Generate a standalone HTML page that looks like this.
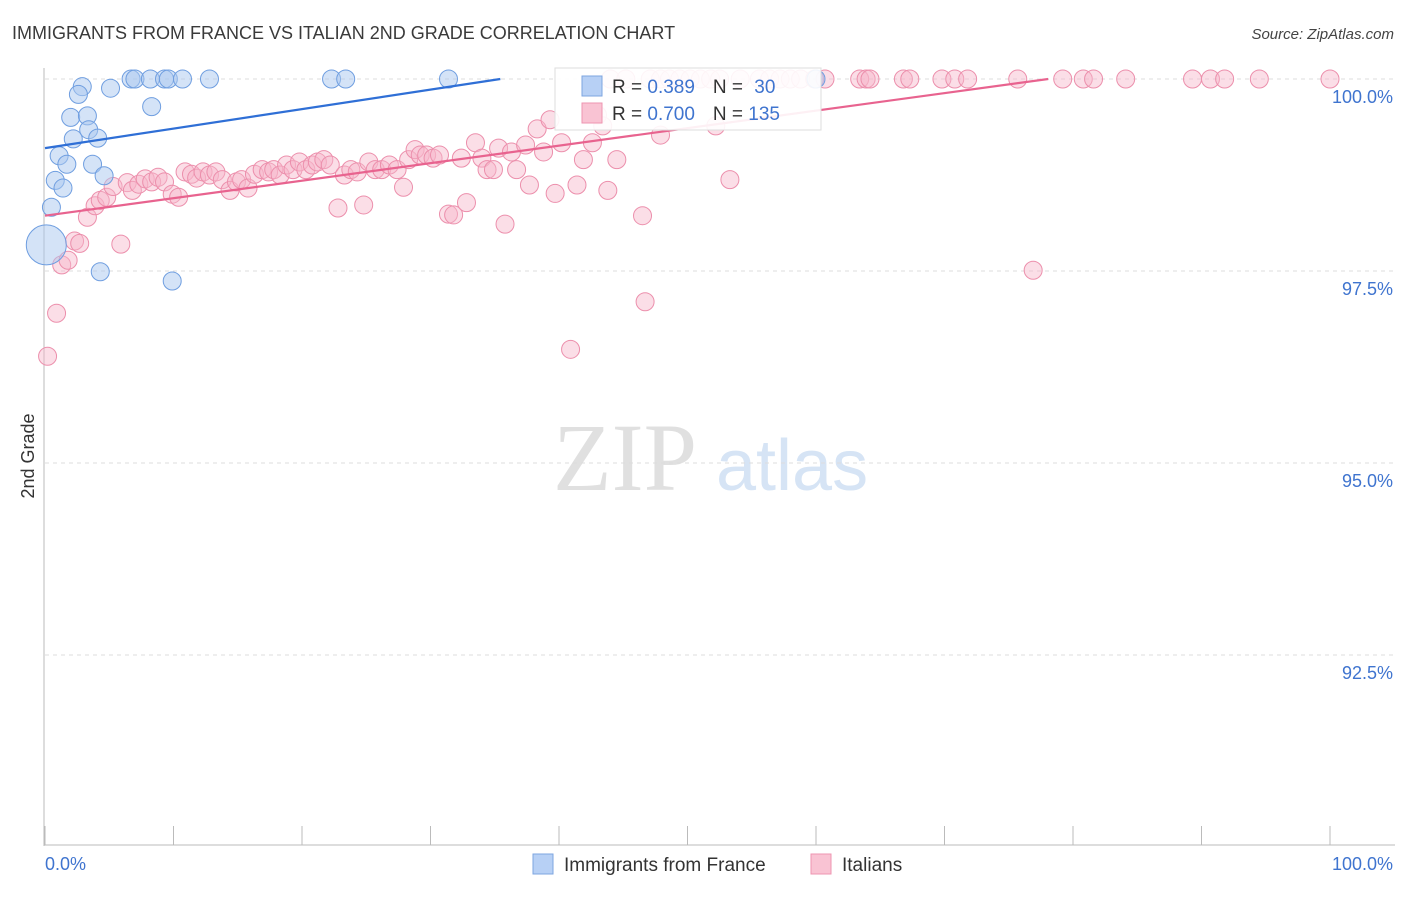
<!DOCTYPE html>
<html><head><meta charset="utf-8"><style>
body{margin:0;background:#fff;font-family:"Liberation Sans",sans-serif;}
svg text{font-family:"Liberation Sans",sans-serif;}
</style></head><body>
<svg id="chart" width="1406" height="892" viewBox="0 0 1406 892" xmlns="http://www.w3.org/2000/svg">
<text x="12" y="39" font-size="18" fill="#3a3a3a">IMMIGRANTS FROM FRANCE VS ITALIAN 2ND GRADE CORRELATION CHART</text>
<text x="1394" y="39" font-size="15" font-style="italic" fill="#444" text-anchor="end">Source: ZipAtlas.com</text>
<g>
<text x="553" y="490" font-size="96" fill="#e0e0e0" style="font-family:'Liberation Serif',serif">ZIP</text>
<text x="716" y="490" font-size="72" fill="#d6e4f5">atlas</text>
</g>
<g id="grid"></g>
<g id="axes"></g>
<g id="pts"></g>
<g id="lines"></g>
<g>
<rect x="555" y="68" width="266" height="62" fill="#fff" fill-opacity="0.9" stroke="#ddd"/>
<rect x="582" y="76" width="20" height="20" fill="#b7d0f5" stroke="#7ea6e0"/>
<text x="612" y="93" font-size="19" fill="#333">R = <tspan fill="#3f74cf">0.389</tspan><tspan dx="18" fill="#333">N = </tspan><tspan dx="6" fill="#3f74cf">30</tspan></text>
<rect x="582" y="103" width="20" height="20" fill="#f9c3d3" stroke="#ee95b0"/>
<text x="612" y="120" font-size="19" fill="#333">R = <tspan fill="#3f74cf">0.700</tspan><tspan dx="18" fill="#333">N = </tspan><tspan fill="#3f74cf">135</tspan></text>
</g>
<g>
<rect x="533" y="854" width="20" height="20" fill="#b7d0f5" stroke="#7ea6e0"/>
<text x="564" y="871" font-size="19" fill="#333">Immigrants from France</text>
<rect x="811" y="854" width="20" height="20" fill="#f9c3d3" stroke="#ee95b0"/>
<text x="842" y="871" font-size="19" fill="#333">Italians</text>
</g>
<text transform="translate(34,456) rotate(-90)" font-size="18" fill="#333" text-anchor="middle">2nd Grade</text>
</svg>
<script>
const yTicks=[100,97.5,95,92.5];
const yTickLabels=["100.0%","97.5%","95.0%","92.5%"];
const xTickLabels=["0.0%","100.0%"];
const franceX=[6.7,7.0,8.2,9.3,9.6,10.7,12.8,22.3,23.4,31.4,60.0,2.9,5.1,2.6,8.3,2.0,3.3,2.2,3.4,4.1,1.1,1.7,3.7,0.8,1.4,4.6,0.5,0.1,4.3,9.9];
const franceY=[100,100,100,100,100,100,100,100,100,100,100,99.9,99.88,99.8,99.64,99.5,99.52,99.22,99.34,99.23,99.0,98.89,98.89,98.68,98.58,98.74,98.33,97.84,97.49,97.37];
const franceR=[9,9,9,9,9,9,9,9,9,9,9,9,9,9,9,9,9,9,9,9,9,9,9,9,9,9,9,20,9,9];
const italX=[0.2,0.9,1.3,1.8,2.3,2.7,5.9,3.3,3.9,4.3,
4.8,5.3,6.4,6.8,7.3,7.8,8.3,8.8,9.3,9.9,
10.4,10.9,11.4,11.8,12.3,12.8,13.3,13.8,14.4,14.9,
15.3,15.8,16.3,16.9,17.4,17.8,18.3,18.8,19.3,19.8,
20.3,20.8,21.2,21.7,22.2,22.8,23.3,23.8,24.3,24.8,
25.2,25.7,26.2,26.8,27.4,27.9,28.3,28.8,29.2,29.7,
30.2,30.7,31.4,31.8,32.4,32.8,33.5,34.0,34.4,34.9,
35.3,35.8,36.3,36.7,37.4,37.7,38.3,38.8,39.3,39.7,
40.2,40.9,41.4,41.9,42.6,43.0,43.4,43.8,44.5,46.7,
46.5,47.9,52.2,53.3,76.9];
const italY=[96.39,96.95,97.58,97.64,97.89,97.86,97.85,98.2,98.35,98.42,
98.46,98.6,98.65,98.55,98.63,98.7,98.66,98.72,98.66,98.5,
98.46,98.79,98.76,98.71,98.79,98.75,98.79,98.69,98.55,98.66,
98.69,98.58,98.76,98.82,98.79,98.82,98.75,98.88,98.82,98.92,
98.82,98.88,98.92,98.95,98.88,98.32,98.75,98.82,98.79,98.36,
98.92,98.82,98.82,98.88,98.82,98.59,98.95,99.08,99.01,99.01,
98.97,99.01,98.24,98.23,98.97,98.39,99.17,98.97,98.82,98.82,
99.1,98.11,99.05,98.82,99.14,98.62,99.35,99.05,99.47,98.51,
99.17,96.48,98.62,98.95,99.17,99.53,99.39,98.55,98.95,97.1,
98.22,99.27,99.39,98.69,97.51];
const italTopX=[44.0,45.2,47.1,47.9,48.6,49.4,50.2,51.0,51.8,52.5,54.1,55.6,56.4,57.2,58.0,58.8,59.9,60.7,63.4,63.9,64.2,66.8,67.3,69.8,70.8,71.8,75.7,79.2,80.8,81.6,84.1,89.3,90.7,91.8,94.5,100];
const italTopY=[100,100,100,100,100,100,100,100,100,100,100,100,100,100,100,100,100,100,100,100,100,100,100,100,100,100,100,100,100,100,100,100,100,100,100,100];
const trendIntercept=[99.10,98.22];
const trendSlope=[0.0254,0.0228];
const x0=45,x1=1330,yTop=79,pxPerPct=192/2.5;
const sx=v=>x0+(x1-x0)*v/100;
const sy=v=>yTop+(100-v)*pxPerPct;
const NS="http://www.w3.org/2000/svg";
function mk(tag,attrs,parent){const e=document.createElementNS(NS,tag);for(const k in attrs)e.setAttribute(k,attrs[k]);document.getElementById(parent).appendChild(e);return e;}
yTicks.forEach((t,i)=>{
 const g=mk('line',{x1:45,x2:1395,y1:sy(t),y2:sy(t),stroke:'#ddd','stroke-dasharray':'4,4'},'grid');
 
 
 const tx=mk('text',{x:1393,y:sy(t)+24,'font-size':18,fill:'#3f74cf','text-anchor':'end'},'grid');
 tx.textContent=yTickLabels[i];
 
 
});
const ax=mk('line',{x1:44,x2:44,y1:68,y2:846,stroke:'#bbb'},'axes');


const bx=mk('line',{x1:44,x2:1395,y1:845,y2:845,stroke:'#bbb'},'axes');


for(let i=0;i<=10;i++){
 const t=mk('line',{x1:sx(i*10),x2:sx(i*10),y1:826,y2:845,stroke:'#bbb'},'axes');
 
 
}
const xl0=mk('text',{x:45,y:870,'font-size':18,fill:'#3f74cf'},'axes');xl0.textContent=xTickLabels[0];


const xl1=mk('text',{x:1393,y:870,'font-size':18,fill:'#3f74cf','text-anchor':'end'},'axes');xl1.textContent=xTickLabels[1];


function pink(xs,ys){
 xs.forEach((v,i)=>{
  const c=mk('circle',{cx:sx(v),cy:sy(ys[i]),r:9,fill:'#f7b6ca','fill-opacity':0.45,stroke:'#ec8fac','stroke-width':1},'pts');
  
  
 });
}
pink(italX,italY);
pink(italTopX,italTopY);
franceX.forEach((v,i)=>{
 const c=mk('circle',{cx:sx(v),cy:sy(franceY[i]),r:franceR[i],fill:'#a9c8f0','fill-opacity':0.5,stroke:'#6f9ee0','stroke-width':1},'pts');
 
 
});
const colors=['#2f6fd6','#e8638f'];
trendIntercept.forEach((b,i)=>{
 const xe=Math.min(100,(100-b)/trendSlope[i]);
 const l=mk('line',{x1:sx(0),y1:sy(b),x2:sx(xe),y2:sy(b+trendSlope[i]*xe),stroke:colors[i],'stroke-width':2.2},'lines');
 
 
});
</script>
</body></html>
